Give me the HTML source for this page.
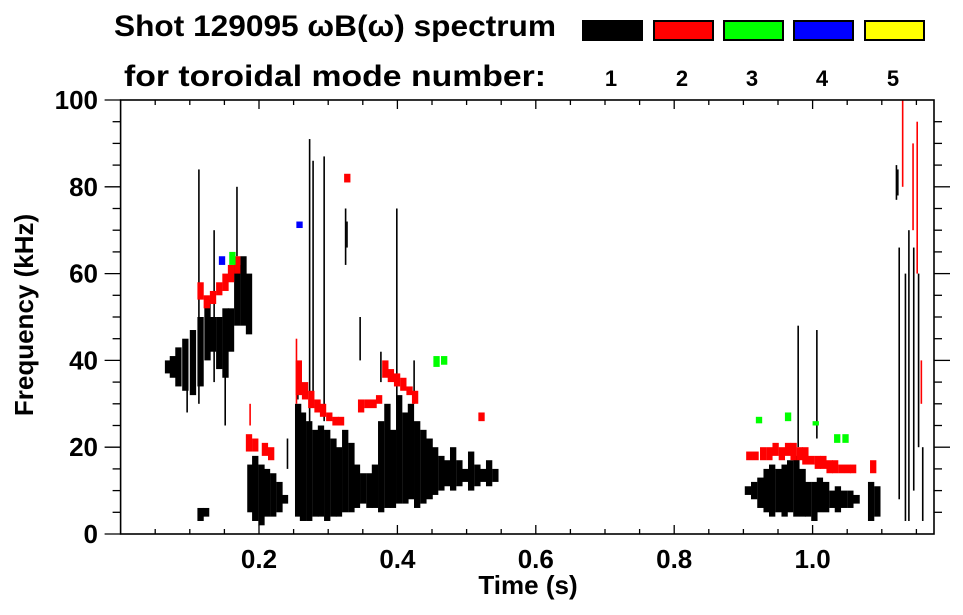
<!DOCTYPE html>
<html><head><meta charset="utf-8"><style>
html,body{margin:0;padding:0;background:#fff;}
svg{display:block;font-family:"Liberation Sans",sans-serif;font-weight:bold;}
</style></head><body>
<svg id="chart" width="963" height="615" viewBox="0 0 963 615" xmlns="http://www.w3.org/2000/svg">
<g>
<text x="114" y="36" font-size="30" textLength="442" lengthAdjust="spacingAndGlyphs">Shot 129095 ωB(ω) spectrum</text>
<text x="124" y="86" font-size="30" textLength="422" lengthAdjust="spacingAndGlyphs">for toroidal mode number:</text>
</g>
<g id="legend"></g>
<g id="marks"></g>
<g id="axes"></g>
<text x="528" y="594" font-size="26" text-anchor="middle">Time (s)</text>
<text transform="translate(33,315) rotate(-90)" font-size="26" text-anchor="middle">Frequency (kHz)</text>
</svg>
<script>
const modeLabels=["1","2","3","4","5"];
const modeColors=["#000000","#ff0000","#00ff00","#0000ff","#ffff00"];
const xTicks=[0.2,0.4,0.6,0.8,1.0];
const xTickLabels=["0.2","0.4","0.6","0.8","1.0"];
const yTicks=[0,20,40,60,80,100];
const yTickLabels=["0","20","40","60","80","100"];
// mode 1 columns [time s, fLow kHz, fHigh kHz]
const mode1Cols=[
[.064,37,40],[.071,36,41],[.079,34,43],[.089,33,45],[.100,32,47],[.111,34,50],[.121,40,54],[.129,42,50],[.138,38,50],[.147,36,52],[.155,42,52],[.164,48,62],[.173,48,64],[.181,46,60],
[.111,3,6],[.119,4,6],
[.183,5,16],[.190,3,18],[.199,2,16],[.207,4,15],[.216,4,14],[.225,5,12],[.233,7,9],
[.252,4,30],[.259,3,28],[.268,3,26],[.277,4,24],[.285,4,25],[.294,3,24],[.303,4,22],[.311,4,20],[.320,5,24],[.329,5,21],[.337,6,16],[.346,7,14],[.355,6,14],[.363,6,16],[.372,5,26],[.381,6,30],[.389,6,24],[.398,7,32],[.407,7,28],[.415,8,30],[.424,6,26],[.433,7,24],[.442,8,22],[.450,9,20],[.459,10,18],[.468,11,17],[.476,10,20],[.485,11,17],[.494,12,15],[.502,10,19],[.511,11,16],[.520,12,15],[.528,11,17],[.537,12,15],
[.902,9,11],[.911,8,12],[.920,6,13],[.929,5,15],[.937,4,16],[.946,5,15],[.955,4,16],[.963,5,17],[.972,4,18],[.981,4,15],[.989,4,12],[.998,3,12],[1.006,5,13],[1.015,5,12],[1.024,6,10],[1.032,5,11],[1.041,6,10],[1.050,6,10],[1.059,7,9],
[1.080,3,12],[1.089,4,11]
];
// mode 1 thin streaks [time, fLow, fHigh]
const mode1Streaks=[
[.112,30,84],[.167,64,80],[.134,35,70],[.150,25,45],[.255,31,38],[.272,24,91],[.277,30,86],[.293,26,87],[.324,62,75],[.326,66,72],[.345,40,50],[.398,30,75],[.375,35,42],[.423,30,40],
[.978,20,48],[1.005,22,47],[1.124,8,66],[1.133,3,60],[1.138,3,70],[1.145,10,66],[1.152,20,60],[1.158,3,20],[1.120,77,85],[1.122,78,84],[.095,28,38],[.240,15,22]
];
const mode2Cols=[
[.111,54,58],[.120,52,55],[.129,53,56],[.138,55,58],[.147,56,60],[.155,58,62],[.164,60,64],
[.181,19,23],[.190,19,22],[.204,18,21],[.213,17,20],
[.253,32,40],[.262,31,35],[.271,29,33],[.280,28,31],[.288,27,30],[.297,26,28],[.306,25,27],[.314,25,27],[.323,81,83],
[.343,28,31],[.352,29,31],[.361,29,31],[.369,30,32],[.378,36,40],[.386,35,38],[.395,34,37],[.404,33,36],[.413,32,34],[.421,30,33],[.517,26,28],
[.904,17,19],[.913,17,19],[.924,17,20],[.933,17,20],[.942,18,21],[.951,17,20],[.960,18,21],[.968,17,21],[.977,17,20],[.985,16,20],[.994,16,18],[1.003,15,18],[1.011,15,18],[1.020,14,17],[1.028,14,17],[1.037,14,16],[1.046,14,16],[1.054,14,16],[1.083,14,17]
];
const mode2Streaks=[[1.129,80,100],[1.144,70,90],[1.150,60,95],[1.156,30,40],[.253,30,45],[.186,25,30]];
const mode3Cols=[[.157,62,65],[.452,38.5,41],[.463,39,41],[.918,25.5,27],[.960,26,28],[1.000,25,26],[1.031,21,23],[1.043,21,23]];
const mode4Cols=[[.142,62,64],[.254,70.5,72]];
const mode5Cols=[];

const NS="http://www.w3.org/2000/svg";
const L=120.6,R=934,T=100,B=534,T0=0,T1=(934-120.6)/692;
function X(t){return L+(t-T0)/(T1-T0)*(R-L);}
function Y(f){return B-f/100*(B-T);}
function mk(tag,attrs,parent){const e=document.createElementNS(NS,tag);for(const k in attrs)e.setAttribute(k,attrs[k]);parent.appendChild(e);return e;}
const marks=document.getElementById('marks'),axes=document.getElementById('axes'),legend=document.getElementById('legend');
const DT=0.0087;
function drawCols(arr,color,name){
  arr.forEach(c=>{const r=mk('rect',{x:X(c[0]),y:Y(c[2]),width:X(c[0]+DT)-X(c[0])+0.3,height:Y(c[1])-Y(c[2]),fill:color},marks);
    
    });
}
function drawStreaks(arr,color,name){
  arr.forEach(c=>{const r=mk('rect',{x:X(c[0]),y:Y(c[2]),width:1.6,height:Y(c[1])-Y(c[2]),fill:color},marks);
    
    });
}
drawCols(mode1Cols,modeColors[0],'mode-1-spectrum');
drawStreaks(mode1Streaks,modeColors[0],'mode-1-streak');
drawCols(mode2Cols,modeColors[1],'mode-2-spectrum');
drawStreaks(mode2Streaks,modeColors[1],'mode-2-streak');
drawCols(mode3Cols,modeColors[2],'mode-3-spectrum');
drawCols(mode4Cols,modeColors[3],'mode-4-spectrum');
drawCols(mode5Cols,modeColors[4],'mode-5-spectrum');
// legend
const boxX=[582,653,723,793,864];
modeLabels.forEach((m,i)=>{
  const r=mk('rect',{x:boxX[i]+1,y:21,width:59,height:19,fill:modeColors[i],stroke:'#000','stroke-width':2},legend);
  
  
  const t=mk('text',{x:boxX[i]+29,y:86,'font-size':22,'text-anchor':'middle'},legend);t.textContent=m;
  
  
});
// axes frame
const f=mk('rect',{x:L,y:T,width:R-L,height:B-T,fill:'none',stroke:'#000','stroke-width':1.6},axes);


for(let k=1;k*0.05<T1;k++){const t=k*0.05,major=k%4===0,len=major?9:5,x=X(t);
  mk('line',{x1:x,x2:x,y1:B,y2:B-len,stroke:'#000','stroke-width':1.3},axes);
  mk('line',{x1:x,x2:x,y1:T,y2:T+len,stroke:'#000','stroke-width':1.3},axes);}
xTicks.forEach((t,i)=>{const e=mk('text',{x:X(t),y:568,'font-size':26,'text-anchor':'middle'},axes);e.textContent=xTickLabels[i];
  
  });
for(let v=5;v<100;v+=5){const major=v%20===0,len=major?16:8,y=Y(v);
  mk('line',{x1:L,x2:L-len,y1:y,y2:y,stroke:'#000','stroke-width':1.3},axes);
  mk('line',{x1:R,x2:R+len,y1:y,y2:y,stroke:'#000','stroke-width':1.3},axes);}
mk('line',{x1:L,x2:L-16,y1:T,y2:T,stroke:'#000','stroke-width':1.3},axes);
mk('line',{x1:L,x2:L-16,y1:B,y2:B,stroke:'#000','stroke-width':1.3},axes);
yTicks.forEach((v,i)=>{const e=mk('text',{x:98,y:Y(v)+9,'font-size':26,'text-anchor':'end'},axes);e.textContent=yTickLabels[i];
  
  });
</script>
</body></html>
